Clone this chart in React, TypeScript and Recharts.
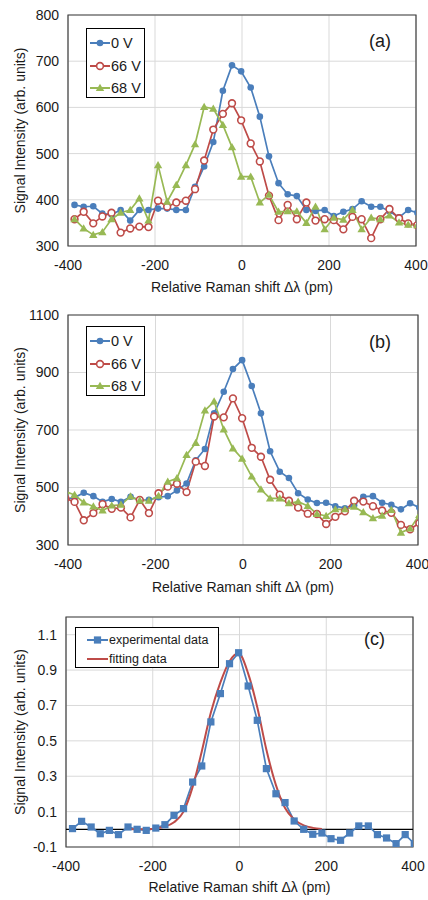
import React from 'react';
import { LineChart, Line, XAxis, YAxis, CartesianGrid, Legend, ReferenceArea, ReferenceLine } from 'recharts';

const FONT = '"Liberation Sans", Arial, sans-serif';
const BLUE = '#4a7ebb';
const RED = '#be4b48';
const GREEN = '#98b954';
const GRID = '#d9d9d9';
const FRAME = '#404040';
const TEXT = '#1a1a1a';

// Raman shift (pm) of each spectrometer pixel, panels (a) and (c)
const shiftPm = [-385, -364, -342, -321, -300, -279, -257, -236, -215, -193, -172, -151, -129, -108, -87, -66, -44, -23, -2, 20, 41, 62, 84, 105, 126, 148, 169, 190, 211, 233, 254, 275, 297, 318, 339, 361, 382, 403];
// panel (b) has one extra pixel on the left
const shiftPmB = [-406, -385, -364, -342, -321, -300, -279, -257, -236, -215, -193, -172, -151, -129, -108, -87, -66, -44, -23, -2, 20, 41, 62, 84, 105, 126, 148, 169, 190, 211, 233, 254, 275, 297, 318, 339, 361, 382, 403];

const xTicks = [-400, -200, 0, 200, 400];

// (a)
const a0V = [389, 385, 386, 370, 368, 378, 355, 378, 378, 381, 381, 378, 378, 428, 472, 525, 636, 691, 678, 643, 580, 494, 436, 412, 408, 378, 376, 378, 365, 374, 380, 397, 385, 385, 375, 362, 378, 372];
const a66V = [358, 374, 349, 364, 372, 329, 338, 342, 341, 398, 385, 394, 398, 423, 485, 552, 586, 609, 572, 522, 483, 409, 356, 389, 358, 394, 355, 358, 356, 336, 363, 358, 317, 358, 380, 360, 349, 345];
const a68V = [358, 338, 324, 330, 358, 372, 378, 403, 355, 475, 396, 432, 475, 520, 601, 597, 562, 514, 450, 450, 394, 411, 374, 375, 375, 350, 385, 336, 361, 357, 378, 336, 361, 358, 366, 351, 346, 345];
const aTicks = [300, 400, 500, 600, 700, 800];

// (b)
const b0V = [460, 465, 482, 470, 450, 460, 450, 468, 455, 457, 466, 470, 490, 514, 595, 634, 758, 833, 912, 943, 853, 758, 626, 555, 533, 480, 458, 446, 447, 435, 428, 438, 468, 470, 447, 440, 424, 445, 430];
const b66V = [462, 450, 386, 411, 442, 426, 430, 396, 457, 411, 480, 503, 513, 484, 590, 575, 747, 744, 810, 741, 638, 607, 527, 475, 454, 430, 409, 408, 373, 398, 417, 454, 451, 435, 420, 412, 370, 355, 376];
const b68V = [487, 474, 448, 434, 420, 437, 440, 469, 455, 454, 471, 520, 532, 613, 655, 768, 799, 702, 636, 600, 538, 493, 462, 462, 445, 451, 436, 408, 401, 424, 424, 433, 414, 393, 402, 422, 343, 357, 404];
const bTicks = [300, 500, 700, 900, 1100];

// (c)
const cExperimental = [0.004, 0.045, 0.013, -0.025, -0.006, -0.03, 0.013, 0.0, -0.006, 0.007, 0.026, 0.079, 0.117, 0.267, 0.358, 0.607, 0.767, 0.936, 0.998, 0.81, 0.616, 0.343, 0.201, 0.151, 0.047, 0.0, -0.028, -0.021, -0.053, -0.062, -0.021, 0.019, 0.019, -0.03, -0.049, -0.081, -0.03, -0.081];
const cFitting = [null, null, null, null, null, null, 0.003, 0.0, 0.001, 0.005, 0.015, 0.04, 0.1, 0.24, 0.44, 0.66, 0.83, 0.95, 0.995, 0.88, 0.69, 0.45, 0.25, 0.12, 0.055, 0.022, 0.008, 0.002, null, null, null, null, null, null, null, null, null, null];
const cTicks = [-0.1, 0.1, 0.3, 0.5, 0.7, 0.9, 1.1];

const rowsA = shiftPm.map((x, i) => ({ x, v0: a0V[i], v66: a66V[i], v68: a68V[i] }));
const rowsB = shiftPmB.map((x, i) => ({ x, v0: b0V[i], v66: b66V[i], v68: b68V[i] }));
const rowsC = shiftPm.map((x, i) => ({ x, exp: cExperimental[i], fit: cFitting[i] }));

type Marker = 'dot' | 'ring' | 'triangle' | 'square' | 'none';

function MarkerShape({ kind, cx, cy, color }: { kind: Marker; cx: number; cy: number; color: string }) {
  if (kind === 'dot') return <circle cx={cx} cy={cy} r={3.3} fill={color} />;
  if (kind === 'ring') return <circle cx={cx} cy={cy} r={3.4} fill="#fff" stroke={color} strokeWidth={1.6} />;
  if (kind === 'triangle')
    return <path d={`M${cx},${cy - 4.2}L${cx + 4.2},${cy + 3}L${cx - 4.2},${cy + 3}Z`} fill={color} />;
  if (kind === 'square') return <rect x={cx - 3.6} y={cy - 3.6} width={7.2} height={7.2} fill={color} />;
  return null;
}

const makeDot = (kind: Marker, color: string) => (props: any) => {
  const { cx, cy, index } = props;
  if (cx == null || cy == null || props.value == null) return <g key={`d${index}`} />;
  return (
    <g key={`d${index}`}>
      <MarkerShape kind={kind} cx={cx} cy={cy} color={color} />
    </g>
  );
};

interface SeriesDef {
  key: string;
  name: string;
  color: string;
  marker: Marker;
  width: number;
  curve?: 'linear' | 'monotone';
}

function LegendBox({ items, width, height, rowH, fontSize, padLeft, padTop, iconW }: any) {
  return (
    <div
      style={{
        width,
        height,
        boxSizing: 'border-box',
        border: '1px solid #000',
        background: '#fff',
        paddingLeft: padLeft,
        paddingTop: padTop,
        fontFamily: FONT,
        fontSize,
        color: TEXT,
      }}
    >
      {items.map((s: SeriesDef) => (
        <div key={s.key} style={{ display: 'flex', alignItems: 'center', height: rowH, whiteSpace: 'nowrap' }}>
          <svg width={iconW} height={12} style={{ flex: 'none' }}>
            <line x1={0} y1={6} x2={iconW} y2={6} stroke={s.color} strokeWidth={2} />
            <MarkerShape kind={s.marker} cx={iconW / 2} cy={6} color={s.color} />
          </svg>
          <span style={{ marginLeft: 1 }}>{s.name}</span>
        </div>
      ))}
    </div>
  );
}

function YTitle(props: any) {
  const vb = props.viewBox || { y: 0, height: 0 };
  const cx = props.cxTitle;
  const cy = vb.y + vb.height / 2;
  return (
    <text
      x={cx}
      y={cy}
      transform={`rotate(-90, ${cx}, ${cy})`}
      textAnchor="middle"
      dominantBaseline="central"
      fontSize={14}
      fill={TEXT}
    >
      Signal Intensity (arb. units)
    </text>
  );
}

interface PanelProps {
  top: number;
  rows: any[];
  series: SeriesDef[];
  yDomain: [number, number];
  yTicks: number[];
  letter: string;
  letterPos: { left: number; top: number };
  marginTop: number;
  marginRight: number;
  yWidth: number;
  xHeight: number;
  legend: any;
  zeroLine?: boolean;
}

function Panel(p: PanelProps) {
  return (
    <div style={{ position: 'absolute', left: 0, top: p.top, width: 428, height: 300 }}>
      <LineChart width={428} height={300} data={p.rows} margin={{ top: p.marginTop, right: p.marginRight, bottom: 0, left: 0 }}>
        <CartesianGrid stroke={GRID} strokeWidth={1} />
        <XAxis
          type="number"
          dataKey="x"
          domain={[-400, 400]}
          ticks={xTicks}
          allowDataOverflow
          axisLine={false}
          tickLine={false}
          tickMargin={8}
          height={p.xHeight}
          tick={{ fill: TEXT, fontSize: 14 }}
          label={{ value: 'Relative Raman shift Δλ (pm)', position: 'insideBottom', offset: 8, fill: TEXT, fontSize: 14 }}
        />
        <YAxis
          type="number"
          domain={p.yDomain}
          ticks={p.yTicks}
          allowDataOverflow
          axisLine={false}
          tickLine={false}
          tickMargin={3}
          width={p.yWidth}
          tick={{ fill: TEXT, fontSize: 14 }}
          label={<YTitle cxTitle={20} />}
        />
        {p.zeroLine && <ReferenceLine y={0} stroke="#000" strokeWidth={1.2} />}
        <ReferenceArea x1={-400} x2={400} y1={p.yDomain[0]} y2={p.yDomain[1]} fill="none" stroke={FRAME} strokeWidth={1.2} fillOpacity={0} />
        {p.series.map((s) => (
          <Line
            key={s.key}
            dataKey={s.key}
            name={s.name}
            type={s.curve || 'linear'}
            stroke={s.color}
            strokeWidth={s.width}
            dot={s.marker === 'none' ? false : makeDot(s.marker, s.color)}
            activeDot={false}
            connectNulls={false}
            isAnimationActive={false}
          />
        ))}
        <Legend
          layout="vertical"
          align="center"
          verticalAlign="middle"
          wrapperStyle={{ left: p.legend.left, top: p.legend.top, width: 'auto', height: 'auto' }}
          content={() => <LegendBox items={p.series} {...p.legend} />}
        />
      </LineChart>
      <div
        style={{
          position: 'absolute',
          left: p.letterPos.left,
          top: p.letterPos.top,
          fontFamily: FONT,
          fontSize: 18,
          lineHeight: '18px',
          color: TEXT,
        }}
      >
        {p.letter}
      </div>
    </div>
  );
}

const voltageSeries: SeriesDef[] = [
  { key: 'v0', name: '0 V', color: BLUE, marker: 'dot', width: 1.7 },
  { key: 'v66', name: '66 V', color: RED, marker: 'ring', width: 1.7 },
  { key: 'v68', name: '68 V', color: GREEN, marker: 'triangle', width: 1.7 },
];

const fitSeries: SeriesDef[] = [
  { key: 'exp', name: 'experimental data', color: BLUE, marker: 'square', width: 1.7 },
  { key: 'fit', name: 'fitting data', color: RED, marker: 'none', width: 2, curve: 'monotone' },
];

const voltLegend = { width: 59, height: 70, rowH: 22.5, fontSize: 14.5, padLeft: 3, padTop: 3, iconW: 20 };

export default function App() {
  return (
    <div style={{ position: 'absolute', left: 0, top: 0, width: 428, height: 900, background: '#fff', fontFamily: FONT }}>
      <Panel
        top={0}
        rows={rowsA}
        series={voltageSeries}
        yDomain={[300, 800]}
        yTicks={aTicks}
        letter="(a)"
        letterPos={{ left: 369, top: 32 }}
        marginTop={15}
        marginRight={12}
        yWidth={68}
        xHeight={54}
        legend={{ ...voltLegend, left: 86, top: 28 }}
      />
      <Panel
        top={300}
        rows={rowsB}
        series={voltageSeries}
        yDomain={[300, 1100]}
        yTicks={bTicks}
        letter="(b)"
        letterPos={{ left: 369, top: 33 }}
        marginTop={15}
        marginRight={10}
        yWidth={68}
        xHeight={55}
        legend={{ ...voltLegend, left: 86, top: 26 }}
      />
      <Panel
        top={600}
        rows={rowsC}
        series={fitSeries}
        yDomain={[-0.1, 1.2]}
        yTicks={cTicks}
        letter="(c)"
        letterPos={{ left: 364, top: 30 }}
        marginTop={17}
        marginRight={15}
        yWidth={66}
        xHeight={53}
        zeroLine
        legend={{ width: 144, height: 41, rowH: 19, fontSize: 12.5, padLeft: 11, padTop: 2, iconW: 21, left: 75, top: 27 }}
      />
    </div>
  );
}
